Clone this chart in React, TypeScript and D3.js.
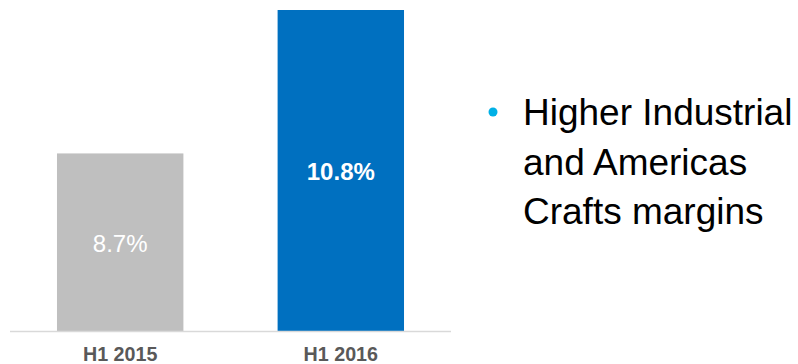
import React from "react";
import * as d3 from "d3";

const categories = ["H1 2015", "H1 2016"];
const values = [8.7, 10.8];
const valueLabels = ["8.7%", "10.8%"];
const barColors = ["#bfbfbf", "#0070c0"];
const labelWeights = ["normal", "bold"];
const bulletLines = ["Higher Industrial", "and Americas", "Crafts margins"];

const W = 798;
const H = 364;
const FONT = "'Liberation Sans', Arial, sans-serif";

export default function App() {
  const x = d3
    .scaleBand<string>()
    .domain(categories)
    .range([10, 451])
    .paddingInner(0.427)
    .paddingOuter(0.213);
  const y = d3.scaleLinear().domain([6.1, 10.8]).range([331, 10]);
  const baseY = y(6.1);

  return (
    <svg
      width={W}
      height={H}
      style={{ position: "absolute", left: 0, top: 0, fontFamily: FONT }}
    >
      <rect width={W} height={H} fill="#ffffff" />
      {categories.map((c, i) => (
        <g key={c}>
          <rect
            x={x(c)}
            y={y(values[i])}
            width={x.bandwidth()}
            height={baseY - y(values[i])}
            fill={barColors[i]}
          />
          <text
            x={(x(c) as number) + x.bandwidth() / 2}
            y={i === 0 ? 252 : 179.5}
            textAnchor="middle"
            fill="#ffffff"
            fontSize={i === 0 ? 24 : 24}
            fontWeight={labelWeights[i]}
          >
            {valueLabels[i]}
          </text>
          <text
            x={(x(c) as number) + x.bandwidth() / 2}
            y={361}
            textAnchor="middle"
            fill="#595959"
            fontSize={19.7}
            fontWeight="bold"
          >
            {c}
          </text>
        </g>
      ))}
      <line x1={10} x2={451} y1={baseY + 0.5} y2={baseY + 0.5} stroke="#d9d9d9" strokeWidth={1.5} />
      <circle cx={493} cy={112} r={4.5} fill="#00b0e6" />
      {bulletLines.map((t, i) => (
        <text key={t} x={523} y={125 + i * 49.5} fontSize={37} fill="#000000">
          {t}
        </text>
      ))}
    </svg>
  );
}
